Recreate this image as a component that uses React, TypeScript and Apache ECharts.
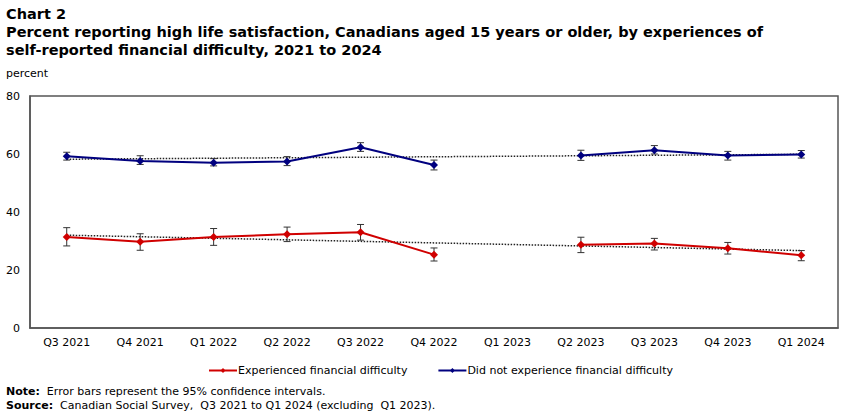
import React, { useEffect, useRef } from "react";
import * as echarts from "echarts";

// Survey quarters (Q1 2023 was not collected)
const quarters = [
  "Q3 2021", "Q4 2021", "Q1 2022", "Q2 2022", "Q3 2022", "Q4 2022",
  "Q1 2023", "Q2 2023", "Q3 2023", "Q4 2023", "Q1 2024",
];

// Experienced financial difficulty: estimate, lower and upper 95% CI
const diffValues = [31.4, 29.7, 31.4, 32.3, 33.0, 25.3, null, 28.7, 29.1, 27.5, 25.1];
const diffLow = [28.3, 26.8, 28.5, 29.8, 30.3, 23.1, null, 26.0, 26.9, 25.5, 23.2];
const diffHigh = [34.6, 32.5, 34.3, 34.8, 35.7, 27.6, null, 31.3, 30.9, 29.5, 26.7];

// Did not experience financial difficulty: estimate, lower and upper 95% CI
const noDiffValues = [59.2, 57.6, 57.0, 57.4, 62.3, 56.2, null, 59.5, 61.3, 59.5, 59.8];
const noDiffLow = [57.9, 56.4, 55.9, 56.0, 60.9, 54.5, null, 57.8, 60.0, 57.9, 58.6];
const noDiffHigh = [60.6, 59.4, 58.4, 59.1, 63.9, 57.9, null, 61.3, 62.9, 60.9, 61.2];

// Linear trend endpoints (first and last quarter)
const diffTrend = [32.0, 26.7];
const noDiffTrend = [58.2, 59.9];

const yTicks = [0, 20, 40, 60, 80];

const RED = "#d00000";
const BLUE = "#00007f";
const FONT = "DejaVu Sans";

function errorData(low: (number | null)[], high: (number | null)[]) {
  const out: any[] = [];
  low.forEach((l, i) => {
    if (l != null && high[i] != null) out.push([i, l, high[i]]);
  });
  return out;
}

function errorSeries(name: string, low: (number | null)[], high: (number | null)[]) {
  return {
    name,
    type: "custom",
    z: 3,
    data: errorData(low, high),
    renderItem: (params: any, api: any) => {
      const x = api.value(0);
      const lo = api.coord([x, api.value(1)]);
      const hi = api.coord([x, api.value(2)]);
      const half = 3.5;
      const style = { stroke: "#333333", lineWidth: 1 };
      return {
        type: "group",
        children: [
          { type: "line", shape: { x1: lo[0], y1: lo[1], x2: hi[0], y2: hi[1] }, style },
          { type: "line", shape: { x1: lo[0] - half, y1: lo[1], x2: lo[0] + half, y2: lo[1] }, style },
          { type: "line", shape: { x1: hi[0] - half, y1: hi[1], x2: hi[0] + half, y2: hi[1] }, style },
        ],
      };
    },
  };
}

function trendSeries(name: string, ends: number[]) {
  return {
    name,
    type: "line",
    z: 1,
    symbol: "none",
    silent: true,
    data: [
      [0, ends[0]],
      [quarters.length - 1, ends[1]],
    ],
    lineStyle: { color: "#222222", width: 1.5, type: "dotted" },
  };
}

export default function App() {
  const ref = useRef<HTMLDivElement>(null);

  useEffect(() => {
    document.body.style.margin = "0";
    const chart = echarts.init(ref.current!, null, { renderer: "svg" });
    chart.setOption({
      animation: false,
      backgroundColor: "#ffffff",
      textStyle: { fontFamily: FONT },
      grid: { left: 30, right: 12, top: 96, bottom: 88 },
      legend: {
        data: ["Experienced financial difficulty", "Did not experience financial difficulty"],
        left: 203,
        top: 360,
        itemGap: 30,
        itemWidth: 28,
        itemHeight: 6,
        textStyle: { fontFamily: FONT, fontSize: 11, color: "#000", padding: [0, 0, 0, -4] },
      },
      xAxis: {
        type: "category",
        data: quarters,
        boundaryGap: true,
        axisLine: { show: true, lineStyle: { color: "#555555", width: 1.5 } },
        axisTick: { show: false },
        axisLabel: { fontFamily: FONT, fontSize: 11, color: "#000", margin: 9, interval: 0 },
        splitLine: { show: false },
      },
      yAxis: {
        type: "value",
        min: yTicks[0],
        max: yTicks[yTicks.length - 1],
        interval: 20,
        axisLine: { show: true, lineStyle: { color: "#555555", width: 1.5 } },
        axisTick: { show: false },
        axisLabel: { fontFamily: FONT, fontSize: 11, color: "#000", margin: 10 },
        splitLine: { show: false },
      },
      series: [
        trendSeries("trendDiff", diffTrend),
        trendSeries("trendNoDiff", noDiffTrend),
        errorSeries("ciDiff", diffLow, diffHigh),
        errorSeries("ciNoDiff", noDiffLow, noDiffHigh),
        {
          name: "Experienced financial difficulty",
          type: "line",
          z: 4,
          data: diffValues,
          connectNulls: false,
          symbol: "diamond",
          symbolSize: 8,
          itemStyle: { color: RED },
          lineStyle: { color: RED, width: 2 },
        },
        {
          name: "Did not experience financial difficulty",
          type: "line",
          z: 4,
          data: noDiffValues,
          connectNulls: false,
          symbol: "diamond",
          symbolSize: 8,
          itemStyle: { color: BLUE },
          lineStyle: { color: BLUE, width: 2 },
        },
      ],
      graphic: [
        {
          type: "rect",
          shape: { x: 30, y: 96, width: 808, height: 232 },
          style: { fill: "none", stroke: "#555555", lineWidth: 1.5 },
          silent: true,
        },
        {
          type: "text",
          left: 6,
          top: 6,
          style: { text: "Chart 2", font: `bold 14.5px ${FONT}`, fill: "#000" },
        },
        {
          type: "text",
          left: 6,
          top: 23,
          style: {
            text:
              "Percent reporting high life satisfaction, Canadians aged 15 years or older, by experiences of\nself-reported financial difficulty, 2021 to 2024",
            font: `bold 14.5px ${FONT}`,
            lineHeight: 18,
            fill: "#000",
          },
        },
        {
          type: "text",
          left: 6,
          top: 68,
          style: { text: "percent", font: `11px ${FONT}`, fill: "#000" },
        },
        {
          type: "text",
          left: 6,
          top: 384,
          style: {
            text: "{b|Note:}  Error bars represent the 95% confidence intervals.\n{b|Source:}  Canadian Social Survey,  Q3 2021 to Q1 2024 (excluding  Q1 2023).",
            font: `11px ${FONT}`,
            lineHeight: 14,
            fill: "#000",
            rich: {
              b: { fontFamily: FONT, fontSize: 11, fontWeight: "bold", lineHeight: 14 },
            },
          },
        },
      ],
    });
    return () => chart.dispose();
  }, []);

  return <div ref={ref} style={{ width: 850, height: 416 }} />;
}
